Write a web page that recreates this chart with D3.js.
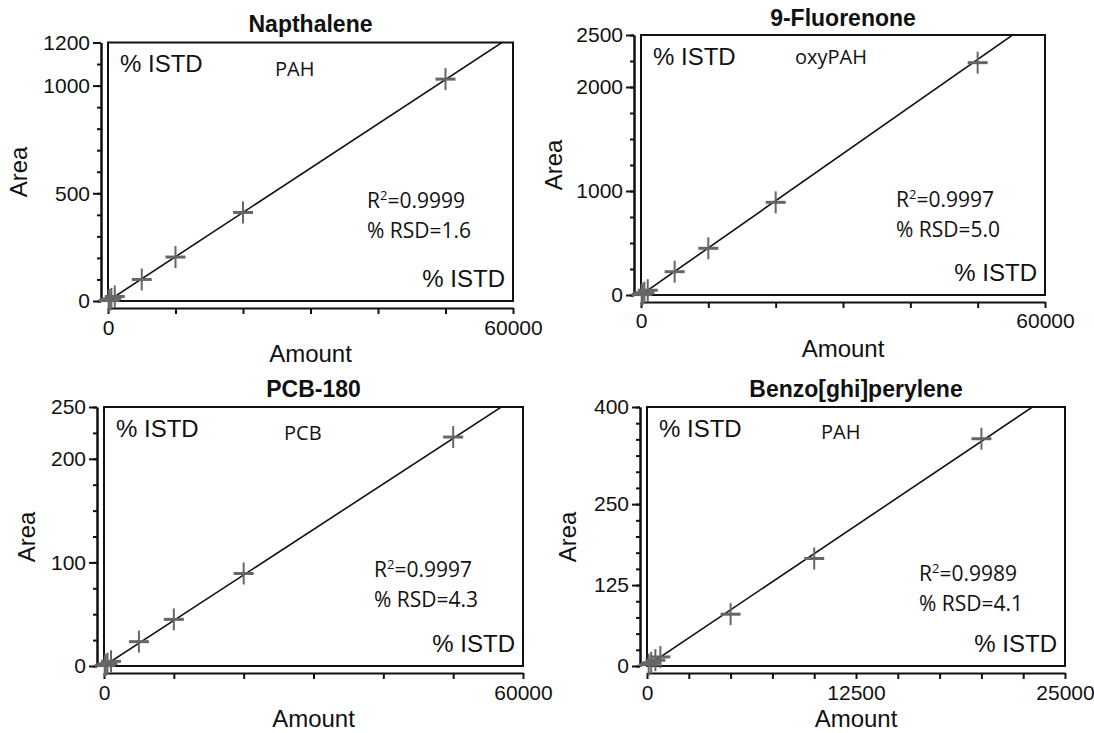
<!DOCTYPE html>
<html>
<head>
<meta charset="utf-8">
<script src="https://cdn.jsdelivr.net/npm/d3@7"></script>
<style>
  body { margin: 0; background: #fff; }
  .arial { font-family: "Liberation Sans", Arial, sans-serif; fill: #111; }
  .cal { font-family: "Open Sans", sans-serif; fill: #111; }
  .axis path, .axis line { stroke: #111; stroke-width: 2; }
  .axis text { font-family: "Liberation Sans", Arial, sans-serif; font-size: 21px; fill: #111; }
</style>
</head>
<body>
<script>
// chart data
var titles = ["Napthalene", "9-Fluorenone", "PCB-180", "Benzo[ghi]perylene"];
var classes = ["PAH", "oxyPAH", "PCB", "PAH"];
var r2Values = ["0.9999", "0.9997", "0.9997", "0.9989"];
var rsdValues = ["1.6", "5.0", "4.3", "4.1"];
var xMax = [60000, 60000, 60000, 25000];
var yMax = [1200, 2500, 250, 400];
var xTickStep = [10000, 10000, 10000, 2500];
var xTickLabels = [[0, 60000], [0, 60000], [0, 60000], [0, 12500, 25000]];
var yMinorStep = [100, 250, 25, 25];
var yTickLabels = [[0, 500, 1000, 1200], [0, 1000, 2000, 2500], [0, 100, 200, 250], [0, 125, 250, 400]];
var amounts = [
  [100, 250, 500, 1000, 5000, 10000, 20000, 50000],
  [100, 250, 500, 1000, 5000, 10000, 20000, 50000],
  [100, 250, 500, 1000, 5000, 10000, 20000, 50000],
  [100, 250, 500, 800, 5000, 10000, 20000]
];
var areas = [
  [2, 5, 10, 21, 100, 204, 411, 1030],
  [4, 11, 22, 46, 224, 449, 891, 2234],
  [0.4, 1.1, 2.2, 4.5, 23.5, 45, 89.3, 221],
  [2, 5, 9, 14, 80, 166, 351]
];
var slopes = [0.02056, 0.0453, 0.004394, 0.01735];

// Width and height
var w = 1094;
var h = 733;

// where each panel sits on the page
var layout = [
  {l: 108, r: 513, t: 42.5, b: 301, axX: 101, axY: 308, titleY: 32, clsX: 275, clsY: 76, statX: 367, statY: 208, xLabY: 335, amountY: 362, areaX: 19, areaY: 172},
  {l: 641, r: 1045, t: 35, b: 295, axX: 634, axY: 302, titleY: 26, clsX: 795, clsY: 64, statX: 896, statY: 207, xLabY: 328, amountY: 357, areaX: 554, areaY: 165},
  {l: 104, r: 523, t: 407, b: 666, axX: 97, axY: 673, titleY: 397, clsX: 284, clsY: 440, statX: 374, statY: 577, xLabY: 700, amountY: 727, areaX: 27, areaY: 537},
  {l: 647, r: 1065, t: 407, b: 666, axX: 640, axY: 673, titleY: 397, clsX: 821, clsY: 439, statX: 919, statY: 581, xLabY: 700, amountY: 727, areaX: 568, areaY: 537}
];

var svg = d3.select("body")
  .append("svg")
  .attr("width", w)
  .attr("height", h);

svg.append("rect").attr("width", w).attr("height", h).attr("fill", "#fff");

titles.forEach(function(title, i) {
  var L = layout[i];
  var g = svg.append("g");

  var x = d3.scaleLinear().domain([0, xMax[i]]).range([L.l, L.r]);
  var y = d3.scaleLinear().domain([0, yMax[i]]).range([L.b, L.t]);

  // plot box
  g.append("rect")
    .attr("x", L.l).attr("y", L.t)
    .attr("width", L.r - L.l).attr("height", L.b - L.t)
    .attr("fill", "none").attr("stroke", "#111").attr("stroke-width", 2);

  // y axis, minor then major ticks
  g.append("g").attr("class", "axis")
    .attr("transform", "translate(" + L.axX + ",0)")
    .call(d3.axisLeft(y).tickValues(d3.range(0, yMax[i] + 1, yMinorStep[i]))
      .tickSize(4).tickSizeOuter(0).tickFormat(""));
  g.append("g").attr("class", "axis")
    .attr("transform", "translate(" + L.axX + ",0)")
    .call(d3.axisLeft(y).tickValues(yTickLabels[i])
      .tickSize(8).tickSizeOuter(0).tickPadding(3).tickFormat(d3.format("d")));

  // x axis
  g.append("g").attr("class", "axis")
    .attr("transform", "translate(0," + L.axY + ")")
    .call(d3.axisBottom(x).tickValues(d3.range(0, xMax[i] + 1, xTickStep[i]))
      .tickSize(6).tickSizeOuter(0)
      .tickFormat(function(d) { return xTickLabels[i].indexOf(d) >= 0 ? d : ""; }))
    .selectAll("text").attr("y", L.xLabY - L.axY).attr("dy", "0");

  // fit line, clipped to the box
  var clipId = "clip" + i;
  g.append("clipPath").attr("id", clipId)
    .append("rect")
    .attr("x", L.l).attr("y", L.t)
    .attr("width", L.r - L.l).attr("height", L.b - L.t);
  g.append("line")
    .attr("clip-path", "url(#" + clipId + ")")
    .attr("x1", x(0)).attr("y1", y(0))
    .attr("x2", x(xMax[i])).attr("y2", y(slopes[i] * xMax[i]))
    .attr("stroke", "#111").attr("stroke-width", 1.6);

  // cross markers
  var pts = amounts[i].map(function(a, k) { return [a, areas[i][k]]; });
  var cross = g.selectAll(".pt").data(pts).enter().append("g")
    .attr("transform", function(d) { return "translate(" + x(d[0]) + "," + y(d[1]) + ")"; });
  cross.append("line").attr("x1", -10).attr("x2", 10).attr("y1", 0).attr("y2", 0)
    .attr("stroke", "#666").attr("stroke-width", 3);
  cross.append("line").attr("x1", 0).attr("x2", 0).attr("y1", -11).attr("y2", 11)
    .attr("stroke", "#666").attr("stroke-width", 2);

  // title
  g.append("text").attr("class", "arial")
    .attr("x", (L.l + L.r) / 2).attr("y", L.titleY)
    .attr("text-anchor", "middle")
    .style("font-weight", "bold").style("font-size", "23px")
    .text(title);

  // axis titles
  g.append("text").attr("class", "arial")
    .attr("x", (L.l + L.r) / 2).attr("y", L.amountY)
    .attr("text-anchor", "middle").style("font-size", "24px")
    .text("Amount");
  g.append("text").attr("class", "arial")
    .attr("transform", "translate(" + L.areaX + "," + L.areaY + ") rotate(-90)")
    .attr("text-anchor", "middle").attr("dy", "0.35em").style("font-size", "24px")
    .text("Area");

  // labels inside the box
  g.append("text").attr("class", "arial")
    .attr("x", L.l + 12).attr("y", L.t + 29.5)
    .style("font-size", "24px").text("% ISTD");
  g.append("text").attr("class", "arial")
    .attr("x", L.r - 8).attr("y", L.b - 14.5)
    .attr("text-anchor", "end").style("font-size", "24px").text("% ISTD");
  g.append("text").attr("class", "cal")
    .attr("x", L.clsX).attr("y", L.clsY)
    .style("font-size", "20px").text(classes[i]);

  var r2 = g.append("text").attr("class", "cal")
    .attr("x", L.statX).attr("y", L.statY).style("font-size", "21px");
  r2.append("tspan").text("R");
  r2.append("tspan").attr("dy", -8).style("font-size", "13px").text("2");
  r2.append("tspan").attr("dy", 8).text("=" + r2Values[i]);
  g.append("text").attr("class", "cal")
    .attr("x", L.statX).attr("y", L.statY + 30)
    .style("font-size", "21px").text("% RSD=" + rsdValues[i]);
});
</script>
</body>
</html>
